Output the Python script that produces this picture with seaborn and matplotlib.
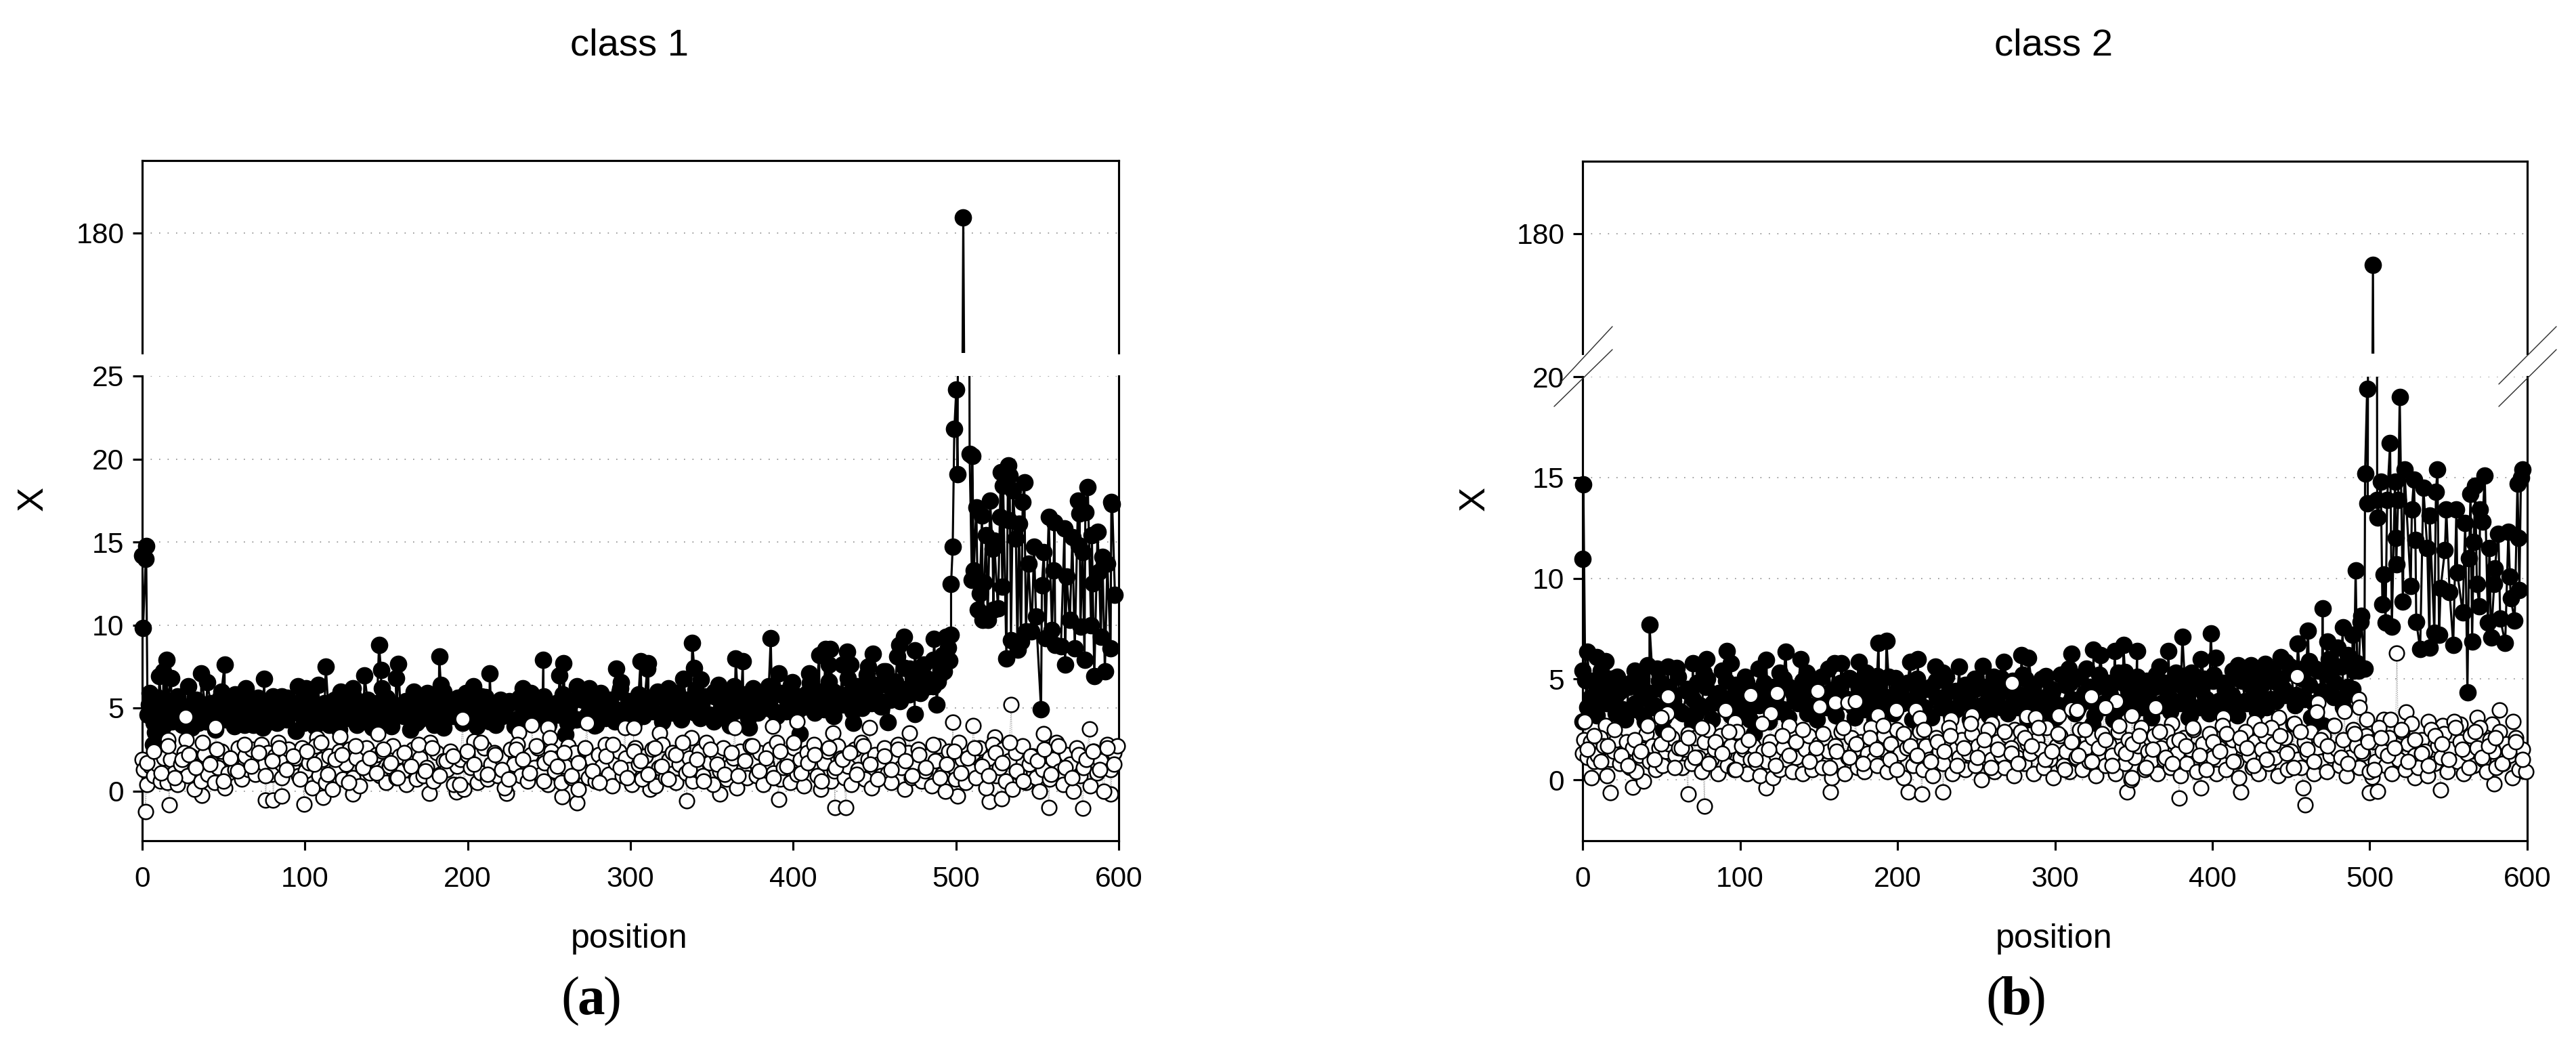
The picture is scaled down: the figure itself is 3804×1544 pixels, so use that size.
import numpy as np
import pandas as pd
import matplotlib
matplotlib.use("Agg")
import matplotlib.pyplot as plt
from matplotlib.lines import Line2D
import seaborn as sns

# ---------- class 1 : black series, individually read peaks / tail (position, X)
a_peak_x = [0,0.5,2.4,2.2,3.3,6.5,8,4.5,14.8,13,10.5,17.7,28.4,36.3,40,50.6,48.7,57,63.5,75,72,80.5,89,95.8,100.6,108,112.8,122,129.5,136.6,145.5,146.7,147.5,157.4,156,167,182.5,183.5,175,185,199,203.5,213.5,211,234,246.5,238.7,256.5,259,267,274.5,281.7,291.4,294.3,293.8,306.2,311,310.3,323.4,332.5,338,339.2,343.2,354,364.7,369,363.5,386.2,391,385,399.4,410,416,419.7,422.8,422,433.3,435.2,430.4,449,446,444.8,455.5,464,465,468,474.6,471.5,486.6,493.7,497,495,496,492.5,488.2,478,474.6,458,437,404,373,351,361,260,278]
a_peak_y = [14.2,9.8,14.75,14.0,4.6,2.8,3.55,5.9,7.9,7.2,6.9,6.8,6.3,7.1,6.55,7.6,6.0,5.8,6.2,6.75,5.5,5.7,5.6,6.3,6.2,6.4,7.5,6.0,6.2,6.95,8.8,7.3,6.2,7.65,6.8,6.0,8.1,6.4,5.9,6.0,5.9,6.3,7.1,5.65,6.2,7.9,5.9,6.95,7.7,6.3,6.2,5.9,7.35,6.55,6.2,7.8,7.7,7.35,6.2,6.75,8.9,7.4,6.7,6.4,8.0,7.8,6.3,9.2,7.1,6.3,6.55,7.1,8.2,8.55,8.55,7.6,8.4,7.6,7.6,8.25,7.5,6.4,7.2,8.1,8.8,9.3,8.45,7.35,9.15,9.3,9.4,8.65,7.85,7.2,5.2,5.9,4.65,4.15,4.1,3.45,3.8,4.2,3.95,3.4,3.95]
a_tail_x = [497,498,499,500.2,501,504.5,508.4,510,512.5,516,521,511,509.8,517.4,514.6,513.5,516.5,519.5,525.8,523,518.5,523.5,522.5,528.5,527,527.5,532,529,533,535,542,541,538.7,532.6,536.8,533.8,540,537.8,531,543,546.5,549.2,548,554,544.5,552.8,560,568,555,559,552.3,561,564.5,567,573,576.5,570,579,583,589,595,585,591.5,597.7,595.5,596,575,581,579.5,576,587,583.5,557,560.5,566.7,571.5,575.5,577.8,590,593,588,584]
a_tail_y = [12.45,14.7,21.8,24.2,19.1,182.3,20.3,20.2,17.1,16.6,17.5,13.3,12.7,12.55,11.9,10.9,10.3,10.3,11.0,10.9,15.4,15.1,14.6,12.3,16.5,19.2,19.6,18.4,19.0,18.1,18.6,17.4,16.1,16.3,15.2,9.1,9.0,8.5,8.0,9.6,9.6,10.5,14.7,14.4,13.7,12.4,13.3,12.9,9.2,9.7,4.9,8.8,8.7,7.6,8.6,9.9,10.3,7.9,10.0,9.3,8.6,6.9,7.2,11.8,17.4,17.3,17.5,18.3,16.8,16.7,15.6,15.4,16.5,16.2,15.8,15.3,14.8,14.4,14.1,13.7,13.2,12.5]
a_black_fill = [5.2,4.1,5.6,3.9,5.4,4.4,5.7,4.0,5.1,3.8,5.5,4.6,4.2,5.3,3.7,5.6,4.3,5.0,3.9,5.5,4.5,5.2,4.0,5.6,3.8,4.8,5.4,4.1,5.7,4.3,
5.0,3.6,5.4,4.5,5.6,3.9,4.7,5.3,4.0,5.5,3.7,5.2,4.4,5.7,4.1,4.9,5.5,3.8,5.3,4.2,5.6,3.9,5.1,4.6,5.4,3.7,5.5,4.3,5.0,5.7,
4.0,5.2,3.8,5.5,4.5,5.6,4.1,4.8,5.4,3.9,5.7,4.3,5.1,4.0,5.5,4.6,5.3,3.9,5.6,4.2,5.0,5.5,4.4,5.7,4.0,5.2,4.6,5.8,4.1,5.4,
4.3,5.9,4.5,5.2,4.0,5.7,4.4,5.5,4.2,6.0,4.6,5.3,4.1,5.8,4.5,5.6,4.8,6.0,4.2,5.4,4.7,5.9,4.3,5.5,4.9,6.1,4.4,5.7,4.6,6.0,
4.5,5.6,4.2,6.1,4.9,5.8,4.4,6.2,4.7,5.6,5.0,6.3,4.5,5.9,4.8,6.4,4.6,5.7,5.1,6.5,4.7,6.0,4.9,6.6,4.5,5.8,5.2,6.8,4.8,6.3,
5.0,7.0,5.3,6.4,5.1,7.2,5.5,6.6,5.4,7.4,5.8,6.9,6.0,7.6,6.3,7.9,6.6,8.2]
a_black_mid = [4.8,4.4,5.0,4.2,5.3,4.6,4.9,4.1,5.2,4.5,4.7,5.1,4.3,4.9,4.0,5.4,4.6,4.8,4.2,5.1,4.4,5.0,4.7,4.1,5.3,4.5,4.9,4.3,5.2,4.6,
4.8,4.0,5.1,4.4,5.3,4.7,4.2,5.0,4.5,4.9,4.1,5.4,4.6,5.2,4.3,4.8,5.0,4.4,5.3,4.7,4.9,4.2,5.1,4.5,5.4,4.3,5.0,4.8,4.6,5.2,
4.4,5.3,4.7,5.1,4.3,5.5,4.8,5.0,4.5,5.2,4.9,4.6,5.4,4.4,5.1,4.8,5.6,4.6,5.3,4.9,5.0,5.5,4.7,5.2,4.5,5.7,5.0,5.4,4.8,5.3,
4.9,5.6,5.1,5.4,4.8,5.8,5.2,5.5,5.0,5.9,5.3,5.7,5.1,6.0,5.5,5.8,5.3,6.2,5.6,6.0,5.4,6.4,5.8,6.2,5.9,6.6,6.1,6.8,6.3,7.0]
a_white_peak_x = [2.1,0,16.5,36.8,26.7,15.8,27.2,45,99.4,111,75.7,80.5,85.8,107.3,121.6,144.8,129.5,176.5,197,193,224,231.5,239.4,249.4,250.6,273.3,267.3,257.8,296.7,302,318,337.3,364,387.4,402.2,424.5,447,471.5,498,510.5,534,582,554,524,391,334.4,355,425.6,432.3,520.7,557,578,528,595,312,501]
a_white_peak_y = [-1.25,1.9,-0.85,-0.25,4.45,3.1,3.1,3.85,-0.8,-0.4,-0.55,-0.55,-0.3,3.2,3.3,3.45,-0.2,-0.15,4.35,-0.08,-0.13,3.55,4.0,3.8,3.2,4.1,-0.7,-0.33,3.8,3.8,3.5,3.2,3.8,3.9,4.2,3.5,3.8,3.5,4.15,3.95,5.2,3.75,3.45,3.25,-0.5,-0.6,-0.2,-1.0,-1.0,-0.65,-1.0,-1.05,-0.45,-0.2,0.1,-0.3]
a_white_fill = [1.3,0.4,1.5,0.9,1.6,0.6,2.0,0.5,1.9,1.1,
0.4,1.6,2.3,0.9,2.1,0.1,1.5,0.6,2.2,1.0,1.7,0.5,1.4,2.4,0.2,1.1,2.0,1.3,2.6,0.7,
2.1,1.3,2.5,1.0,1.9,2.8,1.6,2.3,1.0,2.1,2.9,0.8,1.8,2.5,1.5,2.0,0.9,2.6,1.2,1.7,
0.2,2.7,0.9,1.9,0.5,2.1,0.1,1.3,2.4,0.7,1.6,2.5,0.8,2.0,0.3,1.4,2.6,1.1,1.9,2.2,
0.9,2.4,0.5,1.5,2.7,0.8,2.1,1.2,0.4,1.7,2.5,0.7,2.0,0.9,1.4,2.9,0.6,2.3,1.0,1.8,
1.3,2.4,0.4,1.5,1.9,0.1,2.2,1.4,3.0,0.5,1.1,2.6,0.7,1.6,2.3,0.9,2.0,0.2,1.2,2.5,
1.6,2.8,0.9,1.9,0.6,2.2,1.4,2.6,1.0,1.7,0.4,2.4,1.2,2.0,0.5,1.5,2.7,0.8,2.3,0.1,
1.2,2.5,0.8,1.9,0.6,2.2,1.5,2.8,1.0,0.3,1.7,2.4,0.9,2.0,1.3,0.4,2.6,1.6,0.7,2.1,
1.0,2.5,0.3,1.4,2.8,0.8,1.9,2.3,0.5,1.6,2.6,1.1,2.0,0.6,1.3,2.4,0.9,2.9,1.7,0.4,
2.2,1.2,2.6,0.7,1.5,2.0,0.2,2.4,1.3,0.8,2.7,1.8,0.9,2.3,0.4,1.6,2.5,1.1,2.9,0.7,
1.4,2.1,0.5,2.6,1.0,1.9,0.3,2.3,1.5,2.8,0.9,0.1,1.7,2.4,0.6,1.2,2.7,2.0,0.8,1.5,
0.4,2.5,1.3,2.9,0.7,1.9,0.2,2.2,1.6,0.9,2.6,1.1,0.5,2.0,2.8,1.4,0.1,2.3,0.8,1.7,
2.5,0.6,1.2,2.1,0.3,1.8,2.7,1.0,0.0,2.4,1.5,0.7,2.9,1.9,0.5,1.3,2.2,0.8,2.6,1.6,
0.2,2.0,2.8,0.9,1.4,2.5,0.6,1.8,0.1,2.3,1.1,2.7,0.5,1.6,2.1,0.8,0.0,1.3,2.5,0.7,
1.9,2.9,1.2,0.4,2.2,1.6,0.0,2.6,0.9,1.4,2.0,0.3,2.4,1.1,1.8,0.0,2.8,1.3,2.3,2.7]
a_white_extra = [1.7,2.4,1.1,2.7,0.8,1.9,2.2,1.4,2.9,1.6,2.5,0.6,2.0,1.2,2.8,1.5,2.3,0.9,1.8,2.6,
1.3,2.1,0.7,2.4,1.6,2.9,1.0,1.9,2.2,0.5,2.7,1.4,2.0,1.1,2.5,1.7,0.8,2.3,1.5,2.8,
1.2,2.6,0.9,1.8,2.1,0.4,2.4,1.6,2.9,1.0,2.2,1.3,0.7,2.5,1.9,1.1,2.7,0.6,2.0,1.5,
2.3,0.9,1.7,2.6,1.2,0.5,2.1,2.8,1.4,0.8,2.4,1.8,1.0,2.6,1.5,0.7,2.2,2.9,1.3,1.9,
0.6,2.5,1.6,1.0,2.3,0.9,1.8,2.7,1.2,2.0,0.8,2.4,1.5,2.9,1.1,1.7,2.2,0.6,2.6,1.4,
1.9,2.3,1.0,2.7,1.6,0.7,2.1,1.3,2.5,1.8,0.9,2.2,1.4,2.8,0.8,1.6,2.4,1.1,2.0,2.6,
1.5,0.9,2.3,1.7,2.9,1.2,0.6,2.1,1.8,2.5,1.0,2.7,1.4,0.8,2.2,1.9,2.4,1.3,2.6,1.6]

# ---------- class 2
b_peak_x = [0,0.5,0,1.7,3,9.2,14.6,11.6,0,42.5,41.2,33,22,47.4,54,59.8,70,78.8,77,91.4,94.3,88.7,104,112,116.6,129,138.3,125,142.5,156,159.8,164.2,169.6,175.3,180,188,193,187,198.8,208,212.9,224,229,239.3,254.3,267.7,266,278.8,283.2,281.3,294.3,310.4,309,324.5,319.8,214,150,324,109,51,26.5,38.8,72,329,338,343.5,352.2,344.5,366.5,372,381,386.7,392.8,399,402,416.3,424.6,433.4,443.3,446.6,454.3,460.8,457.6,470,473,479.5,482.8,489,491,494,494.5,496.6,493,485,385,414.8,463,470.7,431]
b_peak_y = [10.95,14.65,5.4,4.95,6.35,6.1,5.9,5.4,2.9,7.7,5.7,5.4,5.1,5.5,5.6,5.55,5.8,6.0,5.3,6.4,5.8,5.4,4.85,5.5,5.95,6.35,6.0,5.3,5.3,5.5,5.8,5.8,5.05,5.85,5.3,6.8,6.9,5.15,5.05,5.85,6.0,5.6,5.3,5.6,5.65,5.85,5.05,6.2,6.05,5.0,5.15,6.25,5.5,6.45,5.5,2.5,1.4,2.75,2.3,2.5,3.3,3.2,3.25,6.2,6.4,6.7,6.4,5.35,5.6,6.4,7.1,5.3,6.0,7.25,6.05,5.7,5.7,5.75,6.1,5.85,6.75,7.4,5.5,8.5,6.85,6.55,7.55,7.2,10.4,7.85,8.15,5.5,5.4,4.2,3.1,3.45,3.1,2.7,3.9]
b_tail_x = [502,498.3,519,512.9,497,498.7,507,505,522,516,528,534,543,542,504.7,511,518,526.7,538,548.6,555,560.6,567,564,573,570,571.6,597,596,593.8,581.7,588,594.5,566,576,547.7,536.5,516.5,529,563,516.8,509,555.5,579.4,589,526,545,550.7,568,579,595,589.5,508,521,569.6,559,529.5,510,514,575,582.8,592,541,544,532,538,553,565,577,586,562]
b_tail_y = [175.4,19.4,19.0,16.7,15.2,13.7,14.8,13.0,15.4,14.8,14.9,14.5,15.4,14.3,13.9,13.9,13.9,13.4,13.1,13.4,13.4,12.75,14.6,14.2,15.1,13.4,12.8,15.4,15.0,14.7,12.2,12.3,12.0,11.8,11.5,11.4,11.5,12.0,11.9,11.0,10.7,10.2,10.3,10.5,10.1,9.6,9.5,9.3,9.7,9.7,9.4,9.0,8.7,8.85,8.6,8.3,7.85,7.8,7.6,7.8,8.0,7.9,7.3,7.2,6.5,6.55,6.7,6.85,7.05,6.8,4.35]
b_black_fill = [3.6,4.9,3.2,4.6,3.8,5.0,3.3,4.4,3.0,4.8,3.5,5.0,2.9,4.3,3.7,4.9,3.1,4.6,3.9,5.1,3.3,4.5,2.8,4.8,3.6,5.0,3.0,4.2,3.8,4.9,
3.2,4.7,3.5,5.1,3.0,4.4,3.7,4.8,2.9,4.6,3.4,5.0,3.1,4.3,3.8,4.9,3.3,4.7,3.0,5.1,3.6,4.4,3.2,4.8,3.9,5.0,3.1,4.5,3.5,4.9,
3.0,4.6,3.7,5.1,3.3,4.3,3.8,4.8,3.0,5.0,3.4,4.5,3.1,4.9,3.6,5.1,3.2,4.4,3.8,4.7,3.0,5.0,3.5,4.6,3.2,5.1,3.7,4.4,3.3,4.9,
3.6,5.2,3.0,4.7,3.9,5.0,3.4,4.5,3.1,5.2,3.7,4.8,3.3,5.1,3.9,4.6,3.2,5.2,3.6,4.8,3.0,5.3,3.8,4.7,3.3,5.1,3.6,4.9,3.1,5.2,
3.7,4.8,3.4,5.3,3.8,4.7,3.2,5.1,3.6,5.0,3.3,5.2,3.9,4.8,3.5,5.4,3.2,4.9,3.8,5.3,3.4,4.7,3.6,5.5,3.9,5.0,4.2,5.6,3.7,5.2,
4.0,5.9,3.8,5.4,4.3,6.0,4.1,5.6,3.6,6.2,4.5,5.8]
b_black_mid = [4.1,3.7,4.4,3.9,4.2,3.5,4.6,3.8,4.3,4.0,3.6,4.5,3.9,4.2,3.4,4.4,4.0,3.7,4.6,3.8,4.3,3.5,4.1,4.5,3.9,3.6,4.4,4.0,3.8,4.2,
3.5,4.6,3.9,4.1,3.7,4.5,3.8,4.3,3.4,4.2,4.0,3.6,4.6,3.9,4.4,3.7,4.1,3.5,4.5,4.0,3.8,4.3,3.6,4.6,4.1,3.9,4.4,3.5,4.2,3.8,
4.5,3.7,4.0,4.3,3.6,4.6,3.9,4.2,3.8,4.5,3.5,4.1,4.4,3.7,4.7,4.0,3.6,4.3,3.9,4.6,3.8,4.2,3.5,4.8,4.1,3.7,4.4,4.0,4.6,3.8,
4.3,3.9,4.7,4.1,3.6,4.5,4.0,4.9,3.8,4.4,4.2,5.0,3.9,4.6,4.3,5.1,4.0,4.8,4.5,5.3,4.2,5.0,4.7,5.5,4.4,5.2,4.8,5.6,4.6,5.4]
b_white_peak_x = [1.25,0,5.4,17.8,32,38.8,54.3,53.6,50,14.6,67,77.5,90.6,96.8,106.7,123.5,119.5,116.6,149.4,150.6,157.3,160.5,168.4,173.4,187.4,199.3,211.6,214,233.8,206.7,215.3,229,247.4,259.8,272.6,274.6,282,287.7,302.5,310.4,314,323.2,339,313.8,332,349,363.9,374,407,426.8,442.2,451,453.8,467,466.3,492.7,493.3,483.9,498.1,517.2,523,509,513,537,546.4,557.4,568,582.2,591,577.8,346,379,392.8,418,459,457.6,500,505,501.5,545,578.9,597,348.3,528.4]
b_white_peak_y = [2.9,1.3,0.1,-0.65,-0.35,-0.05,4.15,3.3,3.1,2.7,-0.7,-1.3,3.45,2.85,4.2,4.3,3.3,-0.4,4.4,3.65,-0.6,3.85,3.85,3.9,3.2,3.45,3.45,3.05,3.0,-0.6,-0.7,-0.6,3.2,2.8,4.8,2.5,3.15,3.1,3.2,3.5,3.4,4.15,3.9,3.45,3.6,3.2,3.6,2.8,3.1,2.85,3.1,2.75,5.15,3.85,3.35,4.0,3.6,3.4,3.0,6.3,3.35,3.0,3.0,2.9,2.7,2.75,3.1,3.45,2.9,2.75,-0.6,-0.9,-0.4,-0.6,-1.25,-0.4,-0.65,-0.55,0.15,-0.5,-0.2,0.45,0.0,0.1]
b_white_fill = [2.0,1.1,1.9,0.9,1.2,2.1,1.7,0.2,1.0,1.4,
2.0,0.8,1.3,1.9,0.6,1.6,0.4,1.2,1.5,2.3,0.9,1.7,0.5,1.6,0.7,1.4,1.8,2.1,1.2,1.6,
0.6,1.5,2.3,0.8,2.1,1.1,0.4,1.9,2.5,1.0,1.5,0.3,2.2,1.3,0.7,1.7,0.5,2.4,1.1,1.5,
0.3,1.0,1.7,0.8,0.2,1.4,0.9,1.9,0.1,1.2,0.5,1.6,1.0,2.7,0.4,1.1,1.8,0.3,1.5,2.2,
0.5,1.2,1.8,0.6,2.0,1.4,0.1,1.7,0.9,2.4,0.3,1.1,2.1,1.5,0.6,1.9,0.4,1.3,2.6,1.0,
0.7,1.5,2.2,0.4,1.8,0.9,2.5,1.3,0.1,1.6,2.0,0.7,1.2,2.4,0.5,1.7,1.0,0.2,2.1,1.4,
0.8,1.9,2.6,0.3,1.5,1.1,2.0,0.5,1.3,2.3,0.7,1.7,0.0,1.4,2.5,1.0,0.4,1.9,1.2,0.6,
2.2,1.6,0.2,1.1,2.4,0.8,1.8,1.3,0.3,2.0,1.5,0.6,2.6,1.0,0.1,1.7,2.2,0.7,1.4,0.4,
1.9,1.1,2.5,0.5,1.6,0.9,2.1,0.2,1.3,2.3,0.7,1.8,1.2,0.3,2.4,1.5,0.8,2.0,0.1,1.1,
1.7,2.6,0.5,1.4,0.9,2.2,0.3,1.6,1.0,2.4,0.6,1.9,1.3,0.2,2.1,0.8,1.5,2.5,0.4,1.2,
1.8,0.7,2.3,1.1,0.3,1.6,2.7,0.5,1.4,2.0,0.9,0.1,1.7,2.4,1.2,0.6,1.9,0.3,1.5,2.2,
0.8,2.6,1.1,0.2,1.7,2.1,0.5,1.4,2.8,1.0,0.6,1.9,1.3,2.4,0.3,1.6,0.9,2.2,0.4,1.2,
2.7,1.5,0.7,2.0,0.2,1.1,2.5,1.7,0.6,1.3,2.2,0.4,1.9,0.9,2.6,1.4,0.7,2.1,0.3,1.6,
1.0,2.4,0.5,1.8,2.8,1.2,0.6,2.0,1.4,0.2,2.5,0.8,1.7,1.1,2.3,0.4,1.5,2.9,0.9,1.9,
0.3,1.3,2.2,0.7,1.6,2.6,1.0,0.4,2.0,1.4,0.6,2.4,0.8,1.8,1.2,0.1,2.1,0.5,1.5,0.4]
b_white_extra = [1.5,2.2,0.9,1.7,2.5,1.2,0.7,2.0,1.4,2.7,1.0,1.8,2.3,0.6,1.6,2.1,1.1,2.6,0.8,1.9,
1.3,2.4,0.5,1.7,2.0,1.0,2.8,1.5,0.7,2.2,1.2,1.9,2.5,0.9,1.6,2.3,0.6,1.4,2.6,1.1,
1.8,0.8,2.1,1.5,2.7,1.0,0.5,2.3,1.7,1.2,2.5,0.9,1.9,1.4,2.2,0.7,1.6,2.8,1.1,2.0,
0.6,1.5,2.4,1.3,0.8,2.1,1.7,2.6,1.0,1.4,2.3,0.5,1.9,1.2,2.5,0.9,1.6,2.0,0.7,2.7,
1.3,1.8,2.2,0.6,1.5,2.4,1.1,0.8,2.0,1.7,2.6,1.2,0.5,1.9,1.4,2.3,0.9,2.1,1.6,0.7,
2.5,1.0,1.8,2.2,1.3,0.6,2.4,1.5,0.9,2.0,1.7,2.7,1.1,0.8,2.3,1.4,1.9,0.5,2.1,1.2,
1.6,2.5,0.9,2.0,1.3,0.7,2.2,1.8,1.0,2.6,1.5,0.6,2.4,1.1,1.7,2.1,0.8,1.4,1.9,1.0]

yticks_a = [0, 5, 10, 15, 20, 25]
yticks_b = [0, 5, 10, 15, 20]
xticks = [0, 100, 200, 300, 400, 500, 600]

W, H = 3804, 1544
sns.set_theme(style="white")
plt.rcParams["font.family"] = ["Liberation Sans", "DejaVu Sans"]
plt.rcParams["text.color"] = "black"
fig = plt.figure(figsize=(W / 300, H / 300), dpi=300, facecolor="white")


def box(l, t, r, b):
    return [l / W, 1 - b / H, (r - l) / W, (b - t) / H]


def panel(l, r, up_t, up_b, lo_t, lo_b, up_lim, lo_lim, ticks, bx, wx, by, wy, title, tx, lx, tag):
    up = fig.add_axes(box(l, up_t, r, up_b))
    lo = fig.add_axes(box(l, lo_t, r, lo_b))
    black = pd.DataFrame({"x": bx, "y": by})
    white = pd.DataFrame({"x": wx, "y": wy})
    for ax, lim in ((up, up_lim), (lo, lo_lim)):
        ax.set_facecolor("none")
        ax.set_xlim(0, 600)
        ax.set_ylim(*lim)
        ax.grid(axis="y", color="#8c8c8c", lw=0.4, linestyle=(0, (1, 6.5)))
        ax.set_axisbelow(True)
        sns.lineplot(data=black, x="x", y="y", ax=ax, color="black", lw=0.75,
                     estimator=None, sort=True, errorbar=None, zorder=2)
        sns.lineplot(data=white, x="x", y="y", ax=ax, color="#777777", lw=0.25, linestyle=":",
                     estimator=None, sort=True, errorbar=None, zorder=2)
        vis = black[(black.y >= lim[0]) & (black.y <= lim[1])]
        sns.scatterplot(data=vis, x="x", y="y", ax=ax, color="black", s=32, edgecolor="black",
                        linewidth=0.5, clip_on=False, zorder=3)
        vis = white[(white.y >= lim[0]) & (white.y <= lim[1])]
        sns.scatterplot(data=vis, x="x", y="y", ax=ax, color="white", s=27, edgecolor="black",
                        linewidth=0.6, clip_on=False, zorder=4)
        for s in ax.spines.values():
            s.set_linewidth(0.75)
            s.set_color("black")
            s.set_visible(True)
        ax.set_xlabel("")
        ax.set_ylabel("")
        ax.tick_params(axis="both", which="major", length=3.4, width=0.75, color="black",
                       labelsize=10.2, labelcolor="black", left=True, bottom=True, pad=3)
        ax.tick_params(axis="x", pad=5.5)
    up.spines["bottom"].set_visible(False)
    lo.spines["top"].set_visible(False)
    up.set_yticks([180])
    up.set_xticks([])
    lo.set_yticks(ticks)
    lo.set_xticks(xticks)
    fig.text(tx / W, 1 - 68 / H, title, ha="center", va="center", fontsize=13.5)
    fig.text(tx / W, 1 - 1386 / H, "position", ha="center", va="center", fontsize=12)
    fig.text(lx / W, 1 - 736 / H, "X", ha="center", va="center", rotation=90, fontsize=13)
    c = tx - 56
    fig.text((c - 31) / W, 1 - 1478 / H, "(", ha="center", va="center", fontsize=19.5, family="Liberation Serif")
    fig.text(c / W, 1 - 1478 / H, tag, ha="center", va="center",
             fontsize=19.5, family="Liberation Serif", fontweight="bold")
    fig.text((c + 31) / W, 1 - 1478 / H, ")", ha="center", va="center",
             fontsize=19.5, family="Liberation Serif")


# black: fill + peaks + tail; white: fill + peaks
a_bx = list(a_peak_x) + list(a_tail_x) + list(np.linspace(4, 492, len(a_black_fill))) + list(np.linspace(6, 490, len(a_black_mid)))
a_by = list(a_peak_y) + list(a_tail_y) + list(a_black_fill) + list(a_black_mid)
a_wx = list(a_white_peak_x) + list(np.linspace(1, 599, len(a_white_fill))) + list(np.linspace(3, 597, len(a_white_extra)))
a_wy = list(a_white_peak_y) + list(a_white_fill) + list(a_white_extra)
b_bx = list(b_peak_x) + list(b_tail_x) + list(np.linspace(3, 492, len(b_black_fill))) + list(np.linspace(5, 490, len(b_black_mid)))
b_by = list(b_peak_y) + list(b_tail_y) + list(b_black_fill) + list(b_black_mid)
b_wx = list(b_white_peak_x) + list(np.linspace(1, 599, len(b_white_fill))) + list(np.linspace(3, 597, len(b_white_extra)))
b_wy = list(b_white_peak_y) + list(b_white_fill) + list(b_white_extra)

up_range = (162.3, 190.7)
panel(210, 1652, 237, 521, 555, 1241, up_range, (-3, 25), yticks_a, a_bx, a_wx, a_by, a_wy,
      "class 1", 929, 49, "a")
panel(2337, 3732, 238, 522, 556, 1241, up_range, (-3.02, 20), yticks_b, b_bx, b_wx, b_by, b_wy,
      "class 2", 3033, 2178, "b")

# axis-break slashes of panel (b)
for (x0, y0, x1, y1) in [(2302, 567, 2381, 482), (2295, 600, 2381, 516),
                         (3690, 567, 3775, 482), (3690, 600, 3775, 516)]:
    fig.add_artist(Line2D([x0 / W, x1 / W], [1 - y0 / H, 1 - y1 / H], color="#333333", lw=0.35))

fig.savefig("out.png", dpi=300, facecolor="white")
